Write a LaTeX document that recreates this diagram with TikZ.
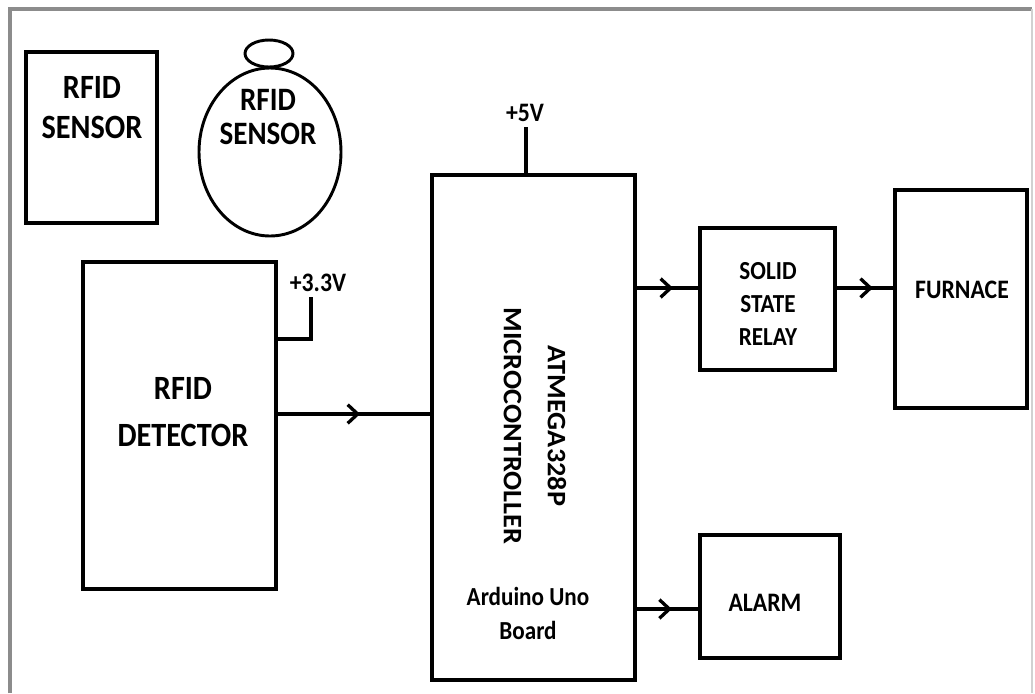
\documentclass[tikz,border=0pt]{standalone}
\usepackage{fontspec}
\setmainfont{Carlito}
\newfontfamily\tallfont{Carlito}[FakeStretch=0.89]
\newfontfamily\longfont{Carlito}[FakeStretch=1.06]
\usetikzlibrary{arrows.meta,positioning,shapes.geometric,decorations.markings}
\newlength\px
\setlength\px{0.75pt}
\definecolor{FrameGray}{RGB}{140,140,140}
\tikzset{
  block/.style={draw,line width=2.5pt,inner sep=0pt},
  tag/.style={ellipse,draw,line width=2.2pt,inner sep=0pt},
  lbl/.style={align=center,font=\tallfont\bfseries\fontsize{20pt}{25pt}\selectfont,inner sep=0pt},
  biglbl/.style={lbl,font=\tallfont\bfseries\fontsize{25.5pt}{30pt}\selectfont},
  wire/.style={line width=2.5pt},
  midarrow/.style={wire,postaction={decorate},
    decoration={markings,mark=at position #1 with
      {\arrow{Straight Barb[length=7.5pt,width=14pt]}}}}
}
\begin{document}
\begin{tikzpicture}[x=0.75pt,y=-0.75pt]
  \useasboundingbox (0,0) rectangle (1035,693);
  % outer frame
  \draw[FrameGray,line width=3pt] (10,693) -- (10,9) -- (1032,9);
  \draw[FrameGray!40,line width=2pt] (1032,9) -- (1032,693);

  % sensors
  \node[block,minimum width=131\px,minimum height=171\px] (sensorbox) at (91.5,137.5) {};
  \node[biglbl] (sensortxt) at (92,108) {RFID\\SENSOR};
  \node[tag,minimum width=142\px,minimum height=168\px] (tagbody) at (270,152) {};
  \node[tag,minimum width=48\px,minimum height=27\px] (tagloop) at (269,53.5) {};
  \node[biglbl,font=\tallfont\bfseries\fontsize{24.5pt}{25pt}\selectfont] (tagtxt) at (268,117) {RFID\\SENSOR};

  % detector
  \node[block,minimum width=193\px,minimum height=327\px] (detector) at (179.5,425.5) {};
  \node[biglbl,font=\tallfont\bfseries\fontsize{25.5pt}{35pt}\selectfont] (detectortxt) at (183,412) {RFID\\DETECTOR};
  \node[lbl] (vdet) at (318,283) {+3.3V};
  \draw[wire] (detector.east |- 0,339) -| (311,297);

  % microcontroller
  \node[block,minimum width=203\px,minimum height=505\px] (mcu) at (533.5,427.5) {};
  \node[lbl,rotate=-90,font=\longfont\bfseries\fontsize{20pt}{33pt}\selectfont] (mcutxt) at (535,426) {ATMEGA328P\\MICROCONTROLLER};
  \node[lbl,font=\tallfont\bfseries\fontsize{19.5pt}{25.5pt}\selectfont] (boardtxt) at (528,613) {Arduino Uno\\Board};
  \node[lbl] (vmcu) at (525,113) {+5V};
  \draw[wire] (mcu.north -| 526,0) -- (526,127);

  % outputs
  \node[block,minimum width=135\px,minimum height=142\px] (relay) at (767.5,299) {};
  \node[lbl,font=\tallfont\bfseries\fontsize{19.5pt}{25pt}\selectfont] (relaytxt) at (768,304) {SOLID\\STATE\\RELAY};
  \node[block,minimum width=132\px,minimum height=218\px] (furnace) at (961,299) {};
  \node[lbl] (furnacetxt) at (962,290) {FURNACE};
  \node[block,minimum width=140\px,minimum height=123\px] (alarm) at (770,596.5) {};
  \node[lbl] (alarmtxt) at (765,603) {ALARM};

  % signal paths
  \coordinate (rowdet) at (0,414);
  \coordinate (rowrelay) at (0,288);
  \coordinate (rowalarm) at (0,609);
  \draw[midarrow=0.54] (detector.east |- rowdet) -- (mcu.west |- rowdet);
  \draw[midarrow=0.59] (mcu.east |- rowrelay) -- (relay.west |- rowrelay);
  \draw[midarrow=0.64] (relay.east |- rowrelay) -- (furnace.west |- rowrelay);
  \draw[midarrow=0.57] (mcu.east |- rowalarm) -- (alarm.west |- rowalarm);
\end{tikzpicture}
\end{document}
